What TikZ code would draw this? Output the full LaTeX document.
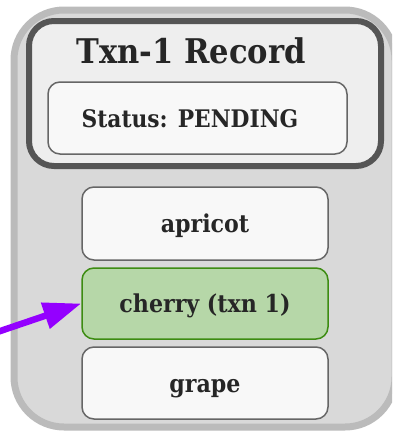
\documentclass[tikz,border=0pt]{standalone}
\usepackage{fontspec}
\usetikzlibrary{arrows.meta}
\newfontfamily\slabfont[FakeStretch=0.9]{DejaVu Serif}
\definecolor{storefill}{HTML}{D9D9D9}
\definecolor{storeline}{HTML}{BBBBBB}
\definecolor{recfill}{HTML}{EEEEEE}
\definecolor{recline}{HTML}{555555}
\definecolor{cellfill}{HTML}{F8F8F8}
\definecolor{cellline}{HTML}{666666}
\definecolor{hitfill}{HTML}{B6D7A8}
\definecolor{hitline}{HTML}{3D8C12}
\definecolor{pointer}{HTML}{9400FF}
\definecolor{ink}{HTML}{262626}
\tikzset{
  store/.style={draw=storeline, fill=storefill, line width=7pt, rounded corners=50pt,
    rectangle, inner sep=0pt},
  record/.style={draw=recline, fill=recfill, line width=6pt, rounded corners=25pt,
    rectangle, inner sep=0pt},
  statusbox/.style={draw=cellline, fill=cellfill, line width=1.5pt, rounded corners=12pt,
    rectangle, inner sep=0pt},
  cell/.style={draw=cellline, fill=cellfill, line width=1.5pt, rounded corners=12pt,
    rectangle, inner sep=0pt, minimum width=246pt, text=ink,
    font=\slabfont\bfseries\fontsize{24.6}{27}\selectfont, text height=22pt, text depth=4pt},
  hit/.style={cell, draw=hitline, fill=hitfill},
  titletext/.style={text=ink, inner sep=0pt, anchor=base,
    font=\slabfont\bfseries\fontsize{34}{38}\selectfont},
  statustext/.style={text=ink, inner sep=0pt, anchor=base,
    font=\slabfont\bfseries\fontsize{24.2}{28}\selectfont},
  link/.style={draw=pointer, line width=6.5pt, -{Triangle[length=38pt, width=26pt]}}
}
\begin{document}
\begin{tikzpicture}[x=1pt, y=-1pt]
  \useasboundingbox (0,0) rectangle (392,432);
  \clip (0,0) rectangle (392,432);
  \fill[white] (0,0) rectangle (392,432);

  % storage container
  \node[store, minimum width=381pt, minimum height=417pt] (store) at (204.5,218.5) {};

  % transaction record with its status
  \node[record, minimum width=352pt, minimum height=145pt] (record) at (205,93.5) {};
  \node[titletext] (title) at (191,63) {Txn-1 Record};
  \node[statusbox, minimum width=299pt, minimum height=72pt] (status) at (197.5,118) {};
  \node[statustext] (statuslabel) at (190,127) {Status: PENDING};

  % keys
  \node[cell, minimum height=73pt] (apricot) at (205,223.5) {apricot};
  \node[hit, minimum height=71pt] (cherry) at (205,303.5) {cherry (txn 1)};
  \node[cell, minimum height=72pt] (grape) at (205,383) {grape};

  % pointer into the written key
  \coordinate (src) at (-10,334.5);
  \draw[link] (src) -- (cherry.west);
\end{tikzpicture}
\end{document}
